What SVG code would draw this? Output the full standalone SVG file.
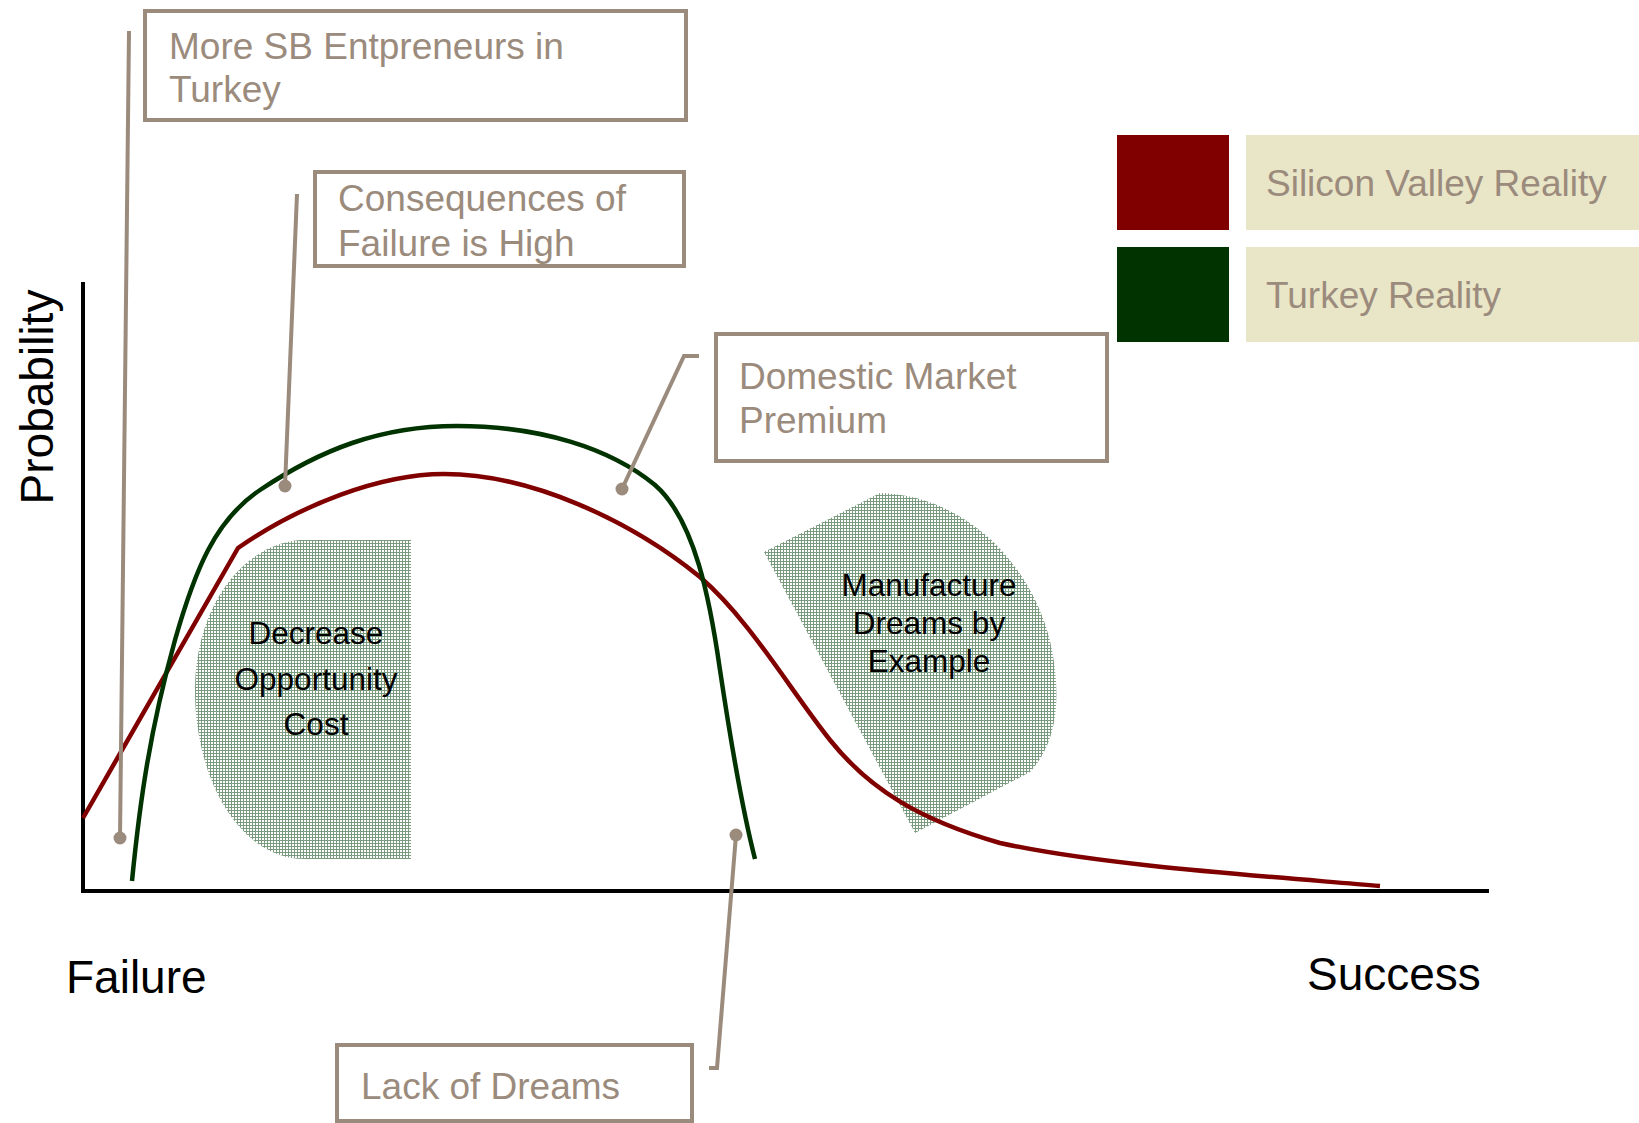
<svg xmlns="http://www.w3.org/2000/svg" width="1639" height="1123" viewBox="0 0 1639 1123">
<defs>
<pattern id="hatch" width="3" height="3" patternUnits="userSpaceOnUse">
<rect width="3" height="3" fill="#ffffff"/>
<path d="M0 0.5H3M0.5 0V3" stroke="#7a9a7e" stroke-width="1"/>
</pattern>
<style>
.callout{fill:#ffffff;stroke:#9b8b7d;stroke-width:4}
.ctext{font-family:"Liberation Sans",Arial,sans-serif;font-size:37px;fill:#9b8b7d}
.leader{fill:none;stroke:#9b8b7d;stroke-width:4}
.dot{fill:#9b8b7d}
.axis{fill:none;stroke:#000000;stroke-width:4}
.axlabel{font-family:"Liberation Sans",Arial,sans-serif;font-size:46px;fill:#000000}
.blob{fill:url(#hatch)}
.btext{font-family:"Liberation Sans",Arial,sans-serif;font-size:31.5px;fill:#000000;text-anchor:middle}
.curve{fill:none;stroke-width:4.5;stroke-linejoin:round}
</style>
</defs>
<rect width="1639" height="1123" fill="#ffffff"/>

<g id="blob-decrease">
<path class="blob" d="M411 540 L300 540 C240 545 195 610 195 690 C195 780 240 859 305 859 L411 859 Z"/>
<text class="btext" x="316" y="644">Decrease</text>
<text class="btext" x="316" y="690">Opportunity</text>
<text class="btext" x="316" y="735">Cost</text>
</g>
<g id="blob-manufacture">
<path class="blob" d="M764 552 L880 493 C965 495 1035 565 1052 650 C1062 705 1055 745 1030 772 L915 833 Z"/>
<text class="btext" x="929" y="596">Manufacture</text>
<text class="btext" x="929" y="634">Dreams by</text>
<text class="btext" x="929" y="672">Example</text>
</g>

<g id="axes">
<path class="axis" d="M83 282 V891 H1489"/>
<text class="axlabel" transform="translate(53 397) rotate(-90)" text-anchor="middle">Probability</text>
<text class="axlabel" x="66" y="993">Failure</text>
<text class="axlabel" x="1307" y="990">Success</text>
</g>

<g id="curves">
<path id="silicon-valley-curve" class="curve" stroke="#800000" d="M83 818 L238 548 C300 505 380 474 444 474 C530 474 630 520 700 577 C750 620 790 690 830 740 C870 790 920 820 1000 843 C1100 865 1250 875 1380 886"/>
<path id="turkey-curve" class="curve" stroke="#003300" d="M132 881 C140 800 150 730 175 640 C195 570 215 520 260 490 C320 450 380 426 457 426 C540 426 610 448 655 485 C695 520 710 600 720 670 C732 750 745 820 755 859"/>
</g>

<g id="connectors">
<path class="leader" d="M129 31 L120 838"/>
<circle class="dot" cx="120" cy="838" r="6.5"/>
<path class="leader" d="M297 194 L285 486"/>
<circle class="dot" cx="285" cy="486" r="6.5"/>
<path class="leader" d="M699 356 L684 356 L622 489"/>
<circle class="dot" cx="622" cy="489" r="6.5"/>
<path class="leader" d="M736 835 L717 1068 L709 1068"/>
<circle class="dot" cx="736" cy="835" r="6.5"/>
</g>

<g id="callout-more-sb">
<rect class="callout" x="145" y="11" width="541" height="109"/>
<text class="ctext" x="169" y="59">More SB Entpreneurs in</text>
<text class="ctext" x="169" y="102">Turkey</text>
</g>
<g id="callout-consequences">
<rect class="callout" x="315" y="172" width="369" height="94"/>
<text class="ctext" x="338" y="211">Consequences of</text>
<text class="ctext" x="338" y="256">Failure is High</text>
</g>
<g id="callout-domestic">
<rect class="callout" x="716" y="334" width="391" height="127"/>
<text class="ctext" x="739" y="389">Domestic Market</text>
<text class="ctext" x="739" y="433">Premium</text>
</g>
<g id="callout-lack">
<rect class="callout" x="337" y="1045" width="355" height="76"/>
<text class="ctext" x="361" y="1099">Lack of Dreams</text>
</g>

<g id="legend-silicon">
<rect x="1117" y="135" width="112" height="95" fill="#800000"/>
<rect x="1246" y="135" width="393" height="95" fill="#e9e5c7"/>
<text class="ctext" x="1266" y="196">Silicon Valley Reality</text>
</g>
<g id="legend-turkey">
<rect x="1117" y="247" width="112" height="95" fill="#003300"/>
<rect x="1246" y="247" width="393" height="95" fill="#e9e5c7"/>
<text class="ctext" x="1266" y="308">Turkey Reality</text>
</g>
</svg>
